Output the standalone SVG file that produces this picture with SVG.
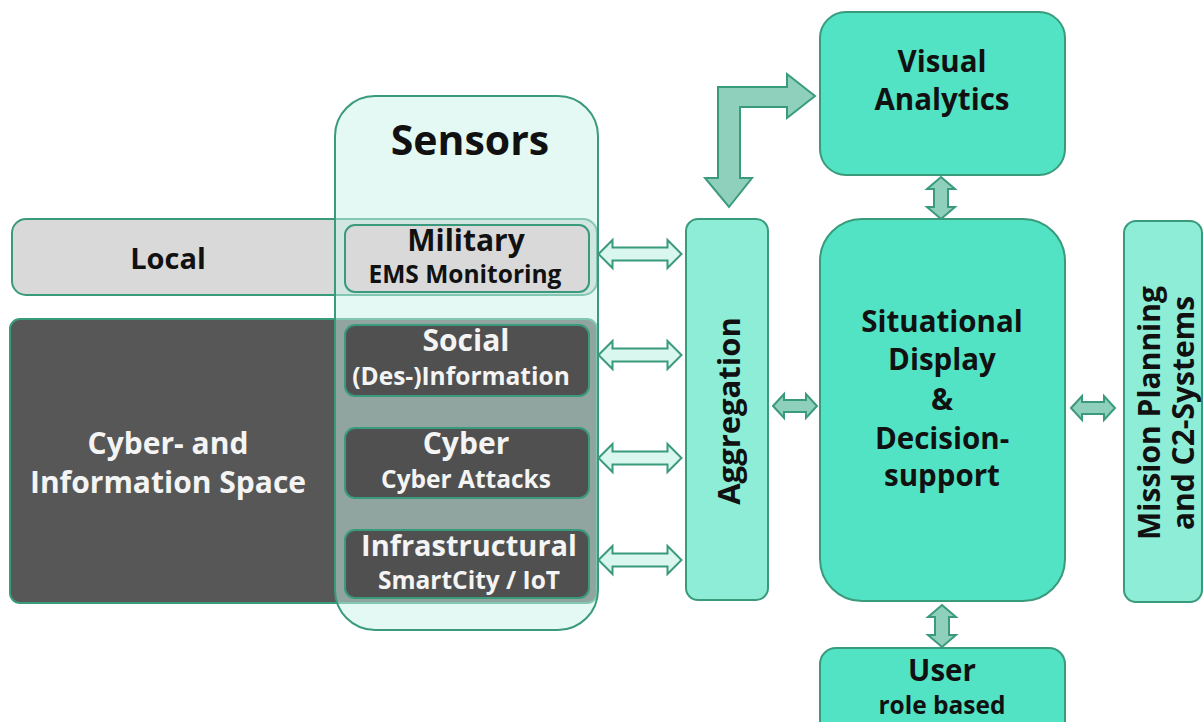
<svg xmlns="http://www.w3.org/2000/svg" width="1203" height="722" viewBox="0 0 1203 722">
  <style>
    text { font-family: "Open Sans", "Noto Sans", "Liberation Sans", sans-serif; font-weight: 700; text-anchor: middle; }
    .edge { stroke: #3a9a7c; stroke-width: 2; }
    .grey { fill: #d9d9d9; }
    .dark { fill: #575757; }
    .sub-dark { fill: #505050; }
    .mint { fill: #52e3c4; }
    .pale { fill: #8eedd6; }
    .light-arrow { fill: #d9f7ef; stroke: #3a9a7c; stroke-width: 2; stroke-linejoin: miter; }
    .mid-arrow { fill: #8fd0bd; stroke: #3a9a7c; stroke-width: 2; stroke-linejoin: miter; }
    .dark-text { fill: #111; }
    .white-text { fill: #f4f4f4; }
  </style>
  <defs>
    <!-- horizontal double arrow, centred on the origin, 83 long -->
    <path id="hArrow" d="M-41.5,0 L-27.5,-14 L-27.5,-6.5 L27.5,-6.5 L27.5,-14 L41.5,0 L27.5,14 L27.5,6.5 L-27.5,6.5 L-27.5,14 Z"/>
    <!-- short horizontal double arrow, 46 long -->
    <path id="hShort" d="M-22,0 L-11,-12 L-11,-6 L11,-6 L11,-12 L22,0 L11,12 L11,6 L-11,6 L-11,12 Z"/>
    <!-- short vertical double arrow, 42 long -->
    <path id="vShort" d="M0,-21 L14,-9 L7,-9 L7,9 L14,9 L0,21 L-14,9 L-7,9 L-7,-9 L-14,-9 Z"/>
  </defs>

  <rect width="1203" height="722" fill="#ffffff"/>

  <!-- domain bands behind the sensor column -->
  <g id="local">
    <rect class="grey edge" x="12" y="219" width="585" height="76" rx="14"/>
    <text class="dark-text" x="168" y="269" font-size="29">Local</text>
  </g>
  <g id="cyber-space">
    <rect class="dark edge" x="10" y="319" width="587" height="284" rx="10"/>
    <text class="white-text" x="168" y="454" font-size="30">Cyber- and</text>
    <text class="white-text" x="168" y="493" font-size="30">Information Space</text>
  </g>

  <!-- sensor column -->
  <g id="sensors">
    <rect class="edge" x="335" y="96" width="263" height="534" rx="40" fill="#c9f3e7" fill-opacity="0.5"/>
    <text class="dark-text" x="470" y="155" font-size="41">Sensors</text>
  </g>
  <g id="military">
    <rect class="grey edge" x="345" y="225" width="244" height="67" rx="10"/>
    <text class="dark-text" x="466" y="251" font-size="30">Military</text>
    <text class="dark-text" x="465" y="283" font-size="24.5">EMS Monitoring</text>
  </g>
  <g id="social">
    <rect class="sub-dark edge" x="345" y="325" width="244" height="71" rx="10"/>
    <text class="white-text" x="466" y="351" font-size="30">Social</text>
    <text class="white-text" x="461" y="385" font-size="24.5">(Des-)Information</text>
  </g>
  <g id="cyber">
    <rect class="sub-dark edge" x="345" y="428" width="244" height="70" rx="10"/>
    <text class="white-text" x="466" y="454" font-size="30">Cyber</text>
    <text class="white-text" x="466" y="488" font-size="24.5">Cyber Attacks</text>
  </g>
  <g id="infrastructural">
    <rect class="sub-dark edge" x="345" y="530" width="244" height="68" rx="10"/>
    <text class="white-text" x="469" y="556" font-size="29">Infrastructural</text>
    <text class="white-text" x="469" y="589" font-size="24.5">SmartCity / IoT</text>
  </g>

  <!-- processing blocks -->
  <g id="aggregation">
    <rect class="pale edge" x="686" y="219" width="82" height="381" rx="12"/>
    <text class="dark-text" font-size="31" transform="translate(740,411) rotate(-90)">Aggregation</text>
  </g>
  <g id="visual-analytics">
    <rect class="mint edge" x="820" y="12" width="245" height="163" rx="26"/>
    <text class="dark-text" x="942" y="72" font-size="29.5">Visual</text>
    <text class="dark-text" x="942" y="110" font-size="29.5">Analytics</text>
  </g>
  <g id="situational-display">
    <rect class="mint edge" x="820" y="219" width="245" height="382" rx="42"/>
    <text class="dark-text" x="942" y="332" font-size="29.5">Situational</text>
    <text class="dark-text" x="942" y="370" font-size="29.5">Display</text>
    <text class="dark-text" x="942" y="410" font-size="29.5">&amp;</text>
    <text class="dark-text" x="942" y="449" font-size="29.5">Decision-</text>
    <text class="dark-text" x="942" y="486" font-size="29.5">support</text>
  </g>
  <g id="user">
    <rect class="mint edge" x="820" y="648" width="245" height="90" rx="16"/>
    <text class="dark-text" x="942" y="681" font-size="29.5">User</text>
    <text class="dark-text" x="942" y="714" font-size="24.5">role based</text>
  </g>
  <g id="mission-planning">
    <rect class="pale edge" x="1124" y="221" width="78" height="381" rx="12"/>
    <text class="dark-text" font-size="30" transform="translate(1160,413) rotate(-90)">Mission Planning</text>
    <text class="dark-text" font-size="30" transform="translate(1194,413) rotate(-90)">and C2-Systems</text>
  </g>

  <!-- connectors -->
  <g id="connectors">
    <use href="#hArrow" class="light-arrow" transform="translate(640,254)"/>
    <use href="#hArrow" class="light-arrow" transform="translate(640,355)"/>
    <use href="#hArrow" class="light-arrow" transform="translate(640,458)"/>
    <use href="#hArrow" class="light-arrow" transform="translate(640,560)"/>
    <use href="#hShort" class="mid-arrow" transform="translate(795,406)"/>
    <use href="#hShort" class="mid-arrow" transform="translate(1093,408)"/>
    <use href="#vShort" class="mid-arrow" transform="translate(941,198)"/>
    <use href="#vShort" class="mid-arrow" transform="translate(942,626)"/>
    <path class="mid-arrow" d="M718,178 L705,178 L729,207 L752,178 L740,178 L740,107 L787,107 L787,118 L815,96 L787,74 L787,87 L718,87 Z"/>
  </g>
</svg>
